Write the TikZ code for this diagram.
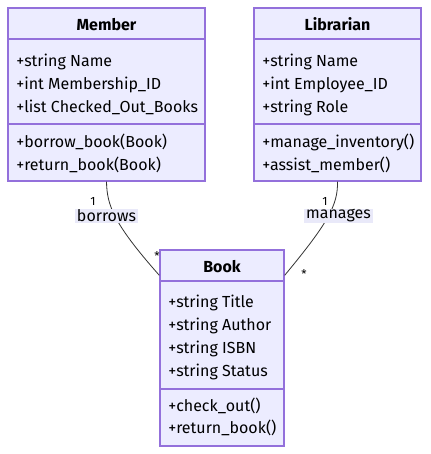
\documentclass[tikz,border=0pt]{standalone}
\usepackage{fontspec}
\setmainfont{Fira Sans}
\usepackage{xcolor}
\usetikzlibrary{fit}
\definecolor{umlfill}{HTML}{ECECFF}
\definecolor{umlborder}{HTML}{9370DB}
\definecolor{linkgray}{HTML}{333333}
\definecolor{labelfill}{HTML}{E9E9F9}
\tikzset{
  classbox/.style={draw=umlborder, fill=umlfill, line width=1pt, inner sep=0pt},
  classrule/.style={draw=umlborder, line width=1pt},
  classtitle/.style={font=\bfseries\fontsize{12}{14}\selectfont, anchor=base, inner sep=0pt},
  entry/.style={font=\fontsize{12}{14}\selectfont, anchor=base west, inner sep=0pt},
  assoc/.style={draw=linkgray, line width=0.6pt},
  rolelabel/.style={fill=labelfill, font=\fontsize{12}{14}\selectfont, inner xsep=1.5pt, inner ysep=0.5pt},
  mult/.style={font=\fontsize{9}{10}\selectfont, inner sep=0pt}
}
\begin{document}
\begin{tikzpicture}[x=0.75pt, y=-0.75pt]

    % Canvas
    \useasboundingbox (0,0) rectangle (430,454);

    % Member class
    \node[classbox, fit={(8,8) (205,181)}] (member) {};
    \draw[classrule] (8,39) -- (205,39);
    \draw[classrule] (8,124) -- (205,124);
    \node[classtitle] (memberTitle) at (106.5,30) {Member};
    \node[entry] (memberName) at (16,66) {+string Name};
    \node[entry] (memberId) at (16,89) {+int Membership\_ID};
    \node[entry] (memberBooks) at (16,112) {+list Checked\_Out\_Books};
    \node[entry] (memberBorrow) at (16,147) {+borrow\_book(Book)};
    \node[entry] (memberReturn) at (16,170) {+return\_book(Book)};

    % Librarian class
    \node[classbox, fit={(254,8) (421,181)}] (librarian) {};
    \draw[classrule] (254,39) -- (421,39);
    \draw[classrule] (254,124) -- (421,124);
    \node[classtitle] (librarianTitle) at (337.5,30) {Librarian};
    \node[entry] (librarianName) at (262,66) {+string Name};
    \node[entry] (librarianId) at (262,89) {+int Employee\_ID};
    \node[entry] (librarianRole) at (262,112) {+string Role};
    \node[entry] (librarianManage) at (262,147) {+manage\_inventory()};
    \node[entry] (librarianAssist) at (262,170) {+assist\_member()};

    % Book class
    \node[classbox, fit={(160,250) (284,446)}] (book) {};
    \draw[classrule] (160,281) -- (284,281);
    \draw[classrule] (160,389) -- (284,389);
    \node[classtitle] (bookTitle) at (222,272) {Book};
    \node[entry] (bookTitleAttr) at (168,307) {+string Title};
    \node[entry] (bookAuthor) at (168,330) {+string Author};
    \node[entry] (bookIsbn) at (168,353) {+string ISBN};
    \node[entry] (bookStatus) at (168,376) {+string Status};
    \node[entry] (bookCheckOut) at (168,411) {+check\_out()};
    \node[entry] (bookReturn) at (168,433) {+return\_book()};

    % Associations
    \draw[assoc] (member.south) .. controls (107,205) and (113,223) .. ([yshift=-19.5pt]book.north west);
    \draw[assoc] (librarian.south) .. controls (338,205) and (328,223) .. ([yshift=-19.5pt]book.north east);

    % Association labels
    \node[rolelabel] (borrowsLabel) at (106.5,216) {borrows};
    \node[rolelabel] (managesLabel) at (338.5,216) {manages};

    % Multiplicities
    \node[mult] (borrowsOne) at (93,201) {1};
    \node[mult] (borrowsMany) at (157,256) {*};
    \node[mult] (managesOne) at (325,201) {1};
    \node[mult] (managesMany) at (304,274) {*};

\end{tikzpicture}
\end{document}
